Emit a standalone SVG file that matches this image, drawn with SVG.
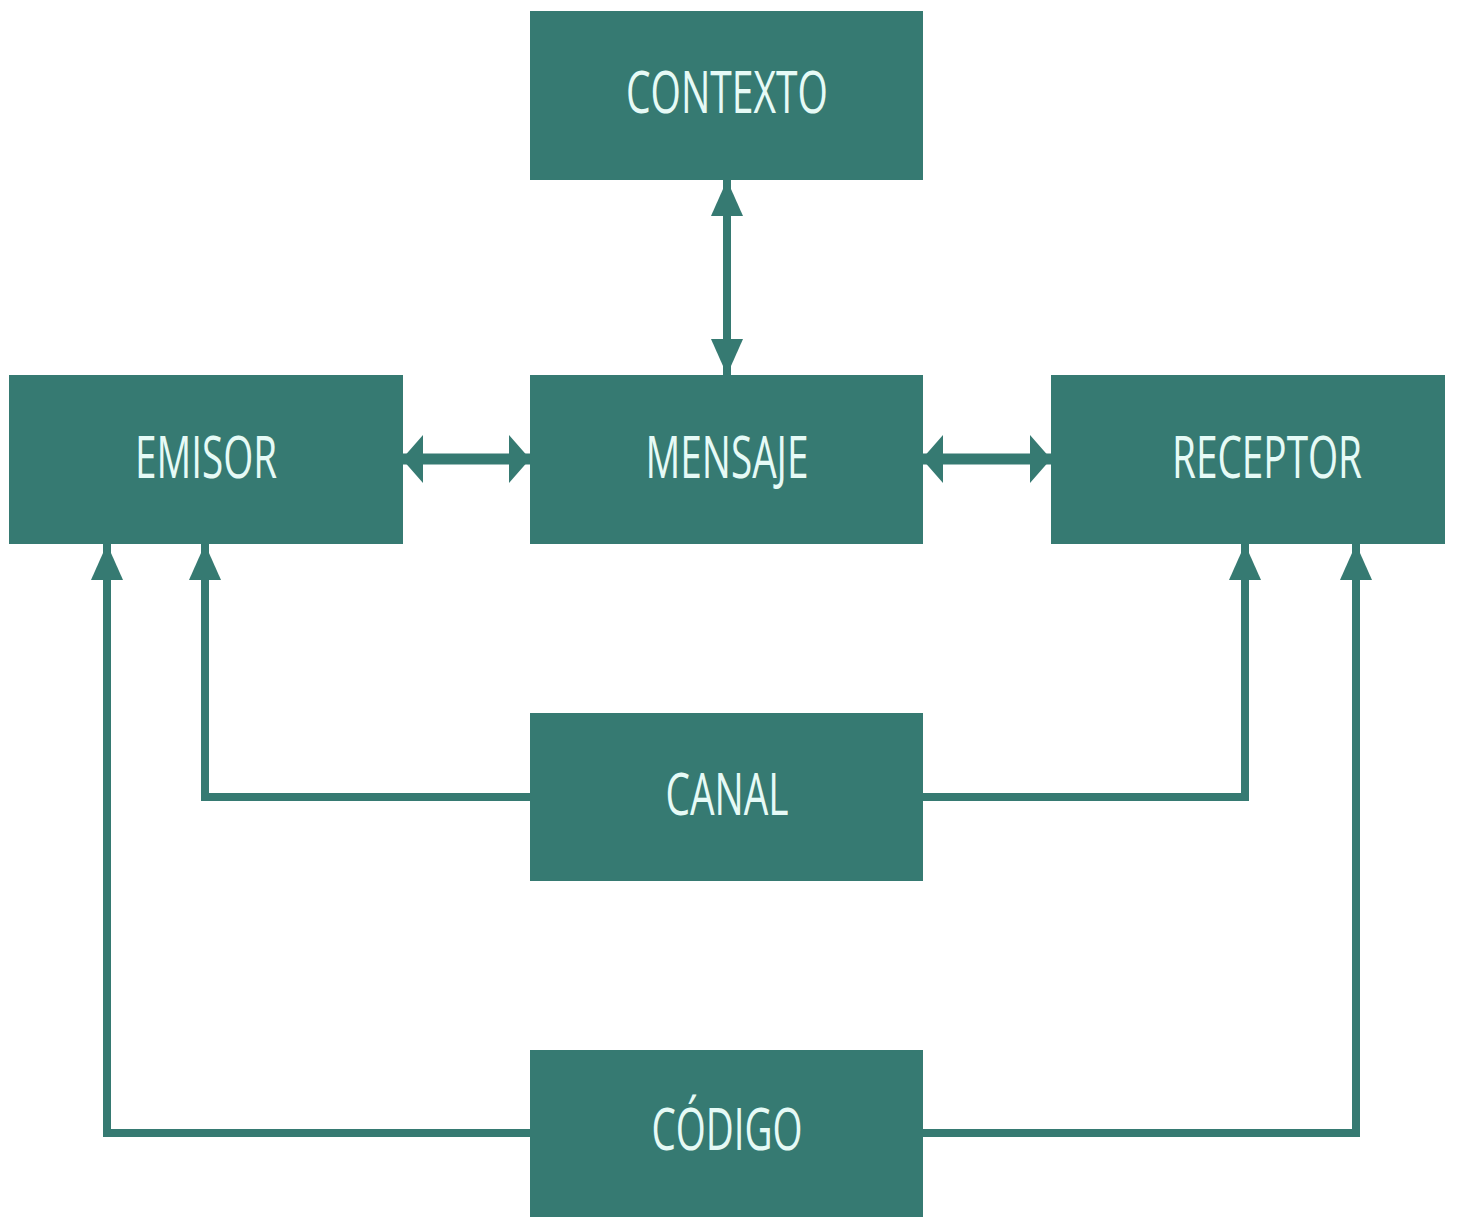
<svg xmlns="http://www.w3.org/2000/svg" width="1457" height="1217" viewBox="0 0 1457 1217">
<style>
.box{fill:#367a72}
.lbl{font-family:"Open Sans","Liberation Sans",sans-serif;font-size:58px;fill:#e6faf6;text-anchor:middle}
.c{fill:none;stroke:#367a72;stroke-width:8}
.h{stroke-width:11}
</style>
<defs>
<marker id="av" markerUnits="userSpaceOnUse" orient="auto-start-reverse" markerWidth="36" markerHeight="32" refX="36" refY="16" viewBox="0 0 36 32"><path d="M0,0 L36,16 L0,32 z" fill="#367a72"/></marker>
<marker id="ah" markerUnits="userSpaceOnUse" orient="auto-start-reverse" markerWidth="21" markerHeight="48" refX="21" refY="24" viewBox="0 0 21 48"><path d="M0,0 L21,24 L0,48 z" fill="#367a72"/></marker>
</defs>
<rect width="1457" height="1217" fill="#ffffff"/>
<g id="connectors">
<line class="c" x1="727" y1="180" x2="727" y2="375" marker-start="url(#av)" marker-end="url(#av)"/>
<line class="c h" x1="402" y1="459" x2="530" y2="459" marker-start="url(#ah)" marker-end="url(#ah)"/>
<line class="c h" x1="922" y1="459" x2="1051" y2="459" marker-start="url(#ah)" marker-end="url(#ah)"/>
<polyline class="c" points="530,797 205,797 205,544" marker-end="url(#av)"/>
<polyline class="c" points="922,797 1245,797 1245,544" marker-end="url(#av)"/>
<polyline class="c" points="530,1133 107,1133 107,544" marker-end="url(#av)"/>
<polyline class="c" points="922,1133 1356,1133 1356,544" marker-end="url(#av)"/>
</g>
<g id="contexto"><rect class="box" x="530" y="11" width="393" height="169"/><text class="lbl" x="727" y="113" textLength="202" lengthAdjust="spacingAndGlyphs">CONTEXTO</text></g>
<g id="emisor"><rect class="box" x="9" y="375" width="394" height="169"/><text class="lbl" x="206" y="478" textLength="142" lengthAdjust="spacingAndGlyphs">EMISOR</text></g>
<g id="mensaje"><rect class="box" x="530" y="375" width="393" height="169"/><text class="lbl" x="727" y="478" textLength="163" lengthAdjust="spacingAndGlyphs">MENSAJE</text></g>
<g id="receptor"><rect class="box" x="1051" y="375" width="394" height="169"/><text class="lbl" x="1267" y="478" textLength="190" lengthAdjust="spacingAndGlyphs">RECEPTOR</text></g>
<g id="canal"><rect class="box" x="530" y="713" width="393" height="168"/><text class="lbl" x="727" y="815" textLength="123" lengthAdjust="spacingAndGlyphs">CANAL</text></g>
<g id="codigo"><rect class="box" x="530" y="1050" width="393" height="167"/><text class="lbl" x="727" y="1150" textLength="151" lengthAdjust="spacingAndGlyphs">CÓDIGO</text></g>
</svg>
